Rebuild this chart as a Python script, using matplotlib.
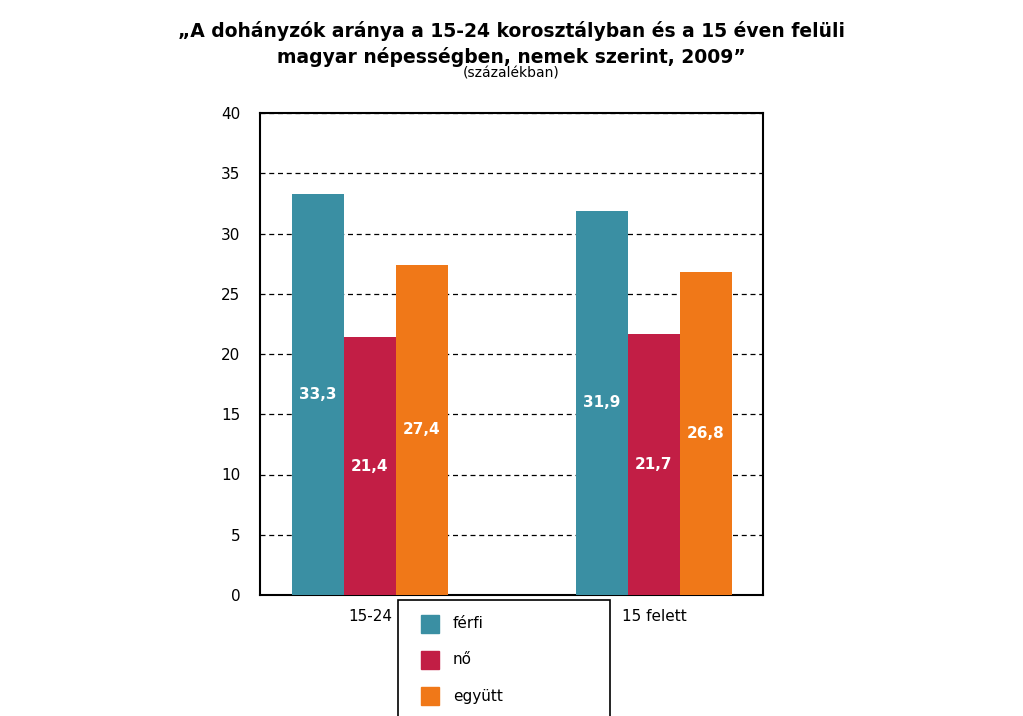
import matplotlib.pyplot as plt
from matplotlib.patches import Rectangle
import numpy as np

categories = ["15-24", "15 felett"]
series_names = ["férfi", "nő", "együtt"]
ferfi = [33.3, 31.9]
no = [21.4, 21.7]
egyutt = [27.4, 26.8]
colors = ["#3a8fa3", "#c21e45", "#f07818"]
yticks = [0, 5, 10, 15, 20, 25, 30, 35, 40]

fig = plt.figure(figsize=(10.23, 7.16), dpi=100)
ax = fig.add_axes([260/1023, 121/716, 503/1023, 482/716])
x = np.arange(len(categories))
w = 0.183
for i, (vals, c) in enumerate(zip([ferfi, no, egyutt], colors)):
    bars = ax.bar(x + (i-1)*w, vals, w, color=c, zorder=3)
    for b, v in zip(bars, vals):
        ax.text(b.get_x()+b.get_width()/2, v/2, f"{v:.1f}".replace(".", ","),
                ha="center", va="center", color="white", fontweight="bold", fontsize=11, zorder=4)
ax.set_xlim(-0.387, 1.384)
ax.set_ylim(0, 40)
ax.set_yticks(yticks)
ax.set_xticks(x)
ax.set_xticklabels(categories, fontsize=11)
ax.tick_params(axis="y", length=0, labelsize=11, pad=14)
ax.tick_params(axis="x", length=0, pad=10)
ax.grid(axis="y", linestyle=(0, (4, 3)), color="black", linewidth=0.9, zorder=1)
for s in ax.spines.values():
    s.set_linewidth(1.5)

fig.text(0.5, 0.97, "„A dohányzók aránya a 15-24 korosztályban és a 15 éven felüli\nmagyar népességben, nemek szerint, 2009”",
         ha="center", va="top", fontsize=13.5, fontweight="bold", linespacing=1.35)
fig.text(0.5, 0.907, "(százalékban)", ha="center", va="top", fontsize=10)

# legend box
fig.patches.append(Rectangle((398/1023, -0.02), 212/1023, 116/716+0.02, transform=fig.transFigure,
                             fill=False, edgecolor="black", linewidth=1.2))
for i, (n, c) in enumerate(zip(series_names, colors)):
    yc = (716 - (624 + i*36)) / 716
    fig.patches.append(Rectangle((421/1023, yc - 9/716), 18/1023, 18/716,
                                 transform=fig.transFigure, color=c))
    fig.text(453/1023, yc, n, va="center", fontsize=11)

fig.savefig("out.png", dpi=100)
